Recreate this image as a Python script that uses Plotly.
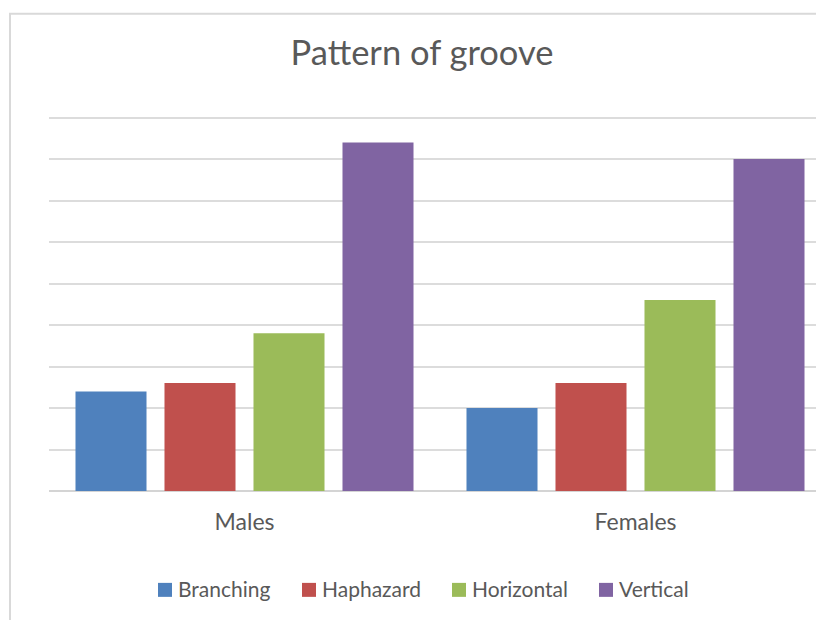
import plotly.graph_objects as go

categories = ["Males", "Females"]
series_names = ["Branching", "Haphazard", "Horizontal", "Vertical"]
branching = [2.4, 2.0]
haphazard = [2.6, 2.6]
horizontal = [3.8, 4.6]
vertical = [8.4, 8.0]
colors = ["#4F81BD", "#C0504D", "#9BBB59", "#8064A2"]

values = [branching, haphazard, horizontal, vertical]
xpos = list(range(len(categories)))

fig = go.Figure()
for name, vals, col in zip(series_names, values, colors):
    fig.add_trace(go.Bar(x=xpos, y=vals, name=name, showlegend=False,
                         marker=dict(color=col, line=dict(width=0))))

W, H = 816, 620
ml = 49
unit_px = (491 - 117) / 9.0
y_top = 9 + 2.5 / unit_px
mt = 117 - 2.5
mb = H - 491
plot_w = W - ml
plot_h = 491 - mt
cat_px = 391.0
x_end = -0.5 + plot_w / cat_px

def px_x(px):
    return (px - ml) / plot_w

def px_y(py):
    return (491 - py) / plot_h

# manual legend (coloured squares + labels)
legend_sq_left = [158, 302, 452, 599]
shapes = [dict(type="rect", xref="paper", yref="paper",
               x0=px_x(10), x1=1.5, y0=-1.0, y1=px_y(13),
               line=dict(color="#d9d9d9", width=2), fillcolor="rgba(0,0,0,0)", layer="below")]
annotations = []
for name, col, left in zip(series_names, colors, legend_sq_left):
    shapes.append(dict(type="rect", xref="paper", yref="paper",
                       x0=px_x(left), x1=px_x(left + 14), y0=px_y(597), y1=px_y(583),
                       fillcolor=col, line=dict(width=0)))
    annotations.append(dict(text=name, xref="paper", yref="paper", x=px_x(left + 19),
                            xanchor="left", y=px_y(589), yanchor="middle", showarrow=False,
                            font=dict(size=21, color="#595959"), borderpad=0))

fig.update_layout(
    width=W, height=H,
    margin=dict(l=ml, r=0, t=mt, b=mb),
    paper_bgcolor="white", plot_bgcolor="white",
    barmode="group", bargap=0.0895, bargroupgap=0.202,
    font=dict(family="Lato, Open Sans, sans-serif", color="#595959"),
    title=dict(text="Pattern of groove", x=422 / W, xanchor="center", xref="container",
               y=1 - 53 / H, yanchor="middle", yref="container",
               font=dict(size=34.5, color="#595959")),
    showlegend=False,
    xaxis=dict(range=[-0.5, x_end], tickvals=xpos, ticktext=categories, showgrid=False,
               zeroline=False, showline=False, ticks="", ticklabelstandoff=15,
               tickfont=dict(size=23, color="#595959")),
    yaxis=dict(range=[0, y_top], dtick=1, showticklabels=False, showgrid=True, gridcolor="#dcdcdc",
               gridwidth=2, zeroline=True, zerolinecolor="#d4d4d4", zerolinewidth=2, ticks=""),
    shapes=shapes,
    annotations=annotations,
)
fig.update_xaxes(automargin=False)
fig.update_yaxes(automargin=False)
fig.write_html("out.html")
